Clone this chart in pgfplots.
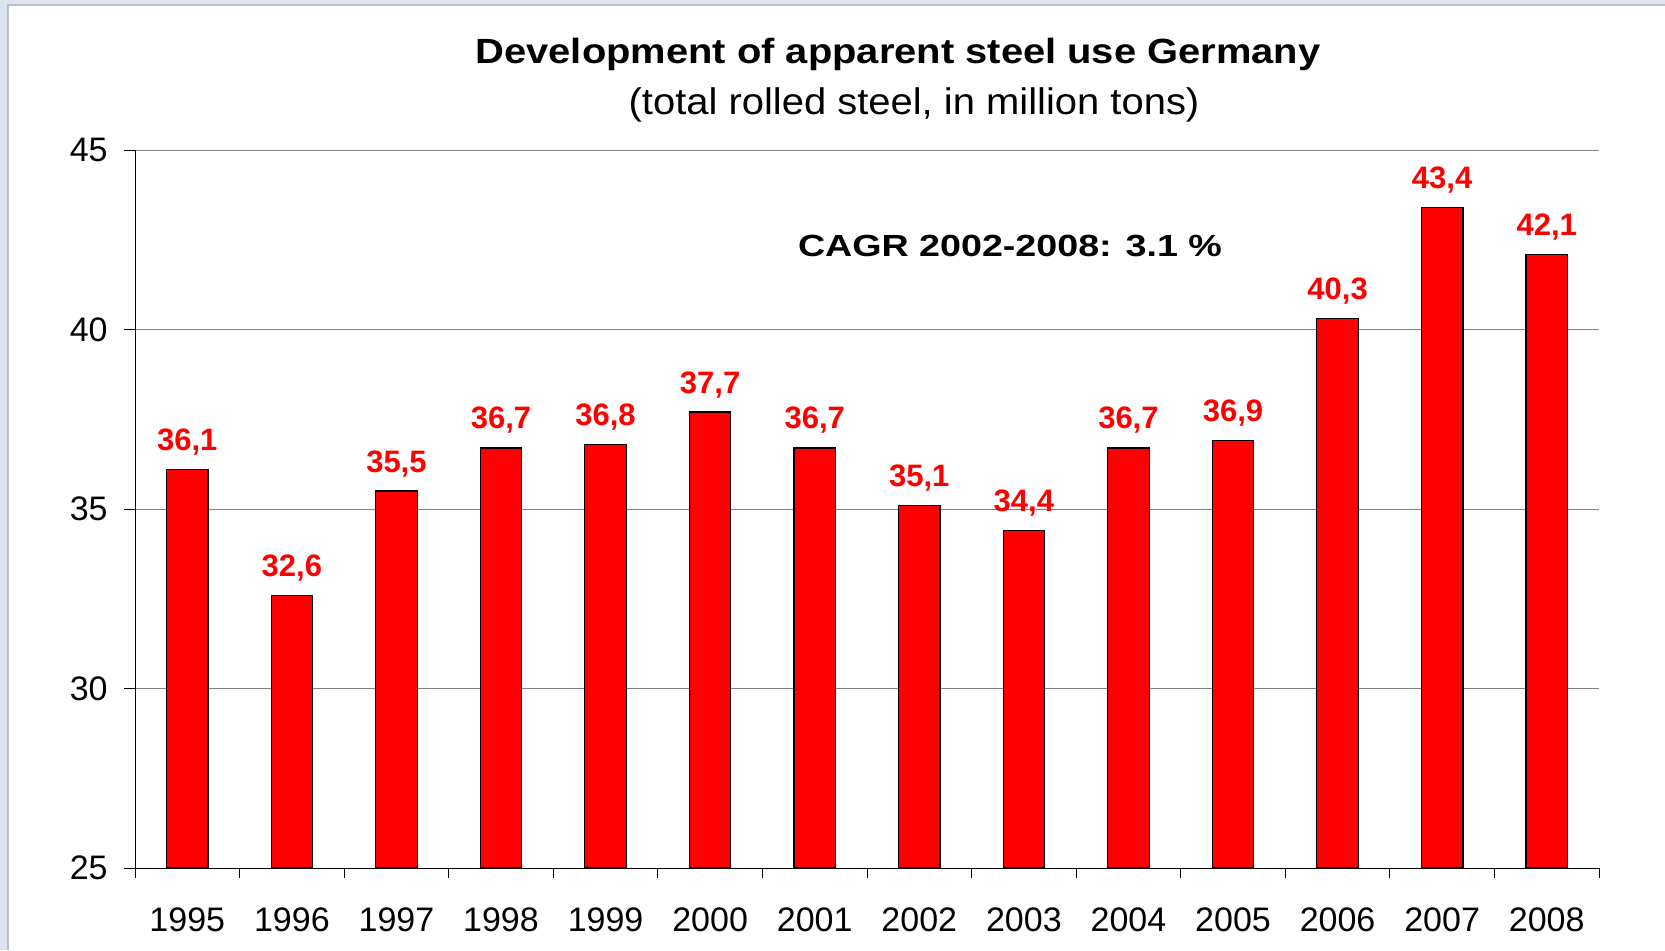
\documentclass[border=0pt]{standalone}
\usepackage{pgfplots}
\pgfplotsset{compat=1.18}
\usepackage{graphicx}
\usepackage{fontspec}
\setmainfont{Liberation Sans}
\definecolor{framebg}{RGB}{220,228,242}
\definecolor{frameline}{RGB}{190,190,195}
\definecolor{gridgray}{RGB}{128,128,128}
\definecolor{barred}{RGB}{255,0,0}
\begin{document}
\begin{tikzpicture}
\useasboundingbox (0,0) rectangle (832.5pt,-475pt);
\fill[framebg] (0,0) rectangle (832.5pt,-475pt);
\fill[white] (4.1pt,-2.4pt) rectangle (832.5pt,-475pt);
\draw[frameline, line width=0.85pt] (4.1pt,-475pt) -- (4.1pt,-2.4pt) -- (832.5pt,-2.4pt);
\begin{axis}[
  at={(67.5pt,-434pt)}, anchor=south west,
  scale only axis, width=732pt, height=359pt,
  xmin=-0.5, xmax=13.5, ymin=25, ymax=45,
  ybar, bar width=20.75pt,
  axis x line*=bottom, axis y line*=left,
  axis line style={-, black, line width=0.5pt},
  xtick={0,...,13},
  xticklabels={1995,1996,1997,1998,1999,2000,2001,2002,2003,2004,2005,2006,2007,2008},
  minor xtick={-0.5,0.5,...,13.5},
  major x tick style={draw=none},
  minor x tick style={black, line width=0.5pt},
  ytick={25,30,35,40,45},
  y tick style={black, line width=0.5pt},
  tick align=outside,
  major tick length=5.5pt, minor tick length=5pt,
  ymajorgrids, grid style={gridgray, line width=0.5pt},
  /pgf/number format/assume math mode=true,
  ticklabel style={font=\fontsize{17pt}{19pt}\selectfont},
  yticklabel style={anchor=east, inner sep=0pt, xshift=-8pt},
  xticklabel style={anchor=north, inner sep=0pt, yshift=-14pt},
  nodes near coords,
  nodes near coords style={/pgf/number format/fixed, /pgf/number format/fixed zerofill, /pgf/number format/precision=1, /pgf/number format/use comma, /pgf/number format/assume math mode=true},
  every node near coord/.append style={anchor=base, inner sep=0pt, yshift=9.5pt, text=barred, font=\fontsize{15.5pt}{18pt}\selectfont\bfseries},
]
\addplot[fill=barred, draw=black, line width=0.6pt] coordinates {
(0,36.1) (1,32.6) (2,35.5) (3,36.7) (4,36.8) (5,37.7) (6,36.7)
(7,35.1) (8,34.4) (9,36.7) (10,36.9) (11,40.3) (12,43.4) (13,42.1)};
\end{axis}
\node[anchor=base, inner sep=0pt] at (449pt,-31.5pt) {\scalebox{1.14}[1]{\fontsize{17.5pt}{20pt}\selectfont\bfseries Development of apparent steel use Germany}};
\node[anchor=base, inner sep=0pt] at (457pt,-57pt) {\scalebox{1.08}[1]{\fontsize{18.5pt}{21pt}\selectfont (total rolled steel, in million tons)}};
\node[anchor=base, inner sep=0pt] at (505pt,-128pt) {\scalebox{1.23}[1]{\fontsize{15.3pt}{18pt}\selectfont\bfseries CAGR 2002-2008: 3.1 \%}};
\end{tikzpicture}
\end{document}
